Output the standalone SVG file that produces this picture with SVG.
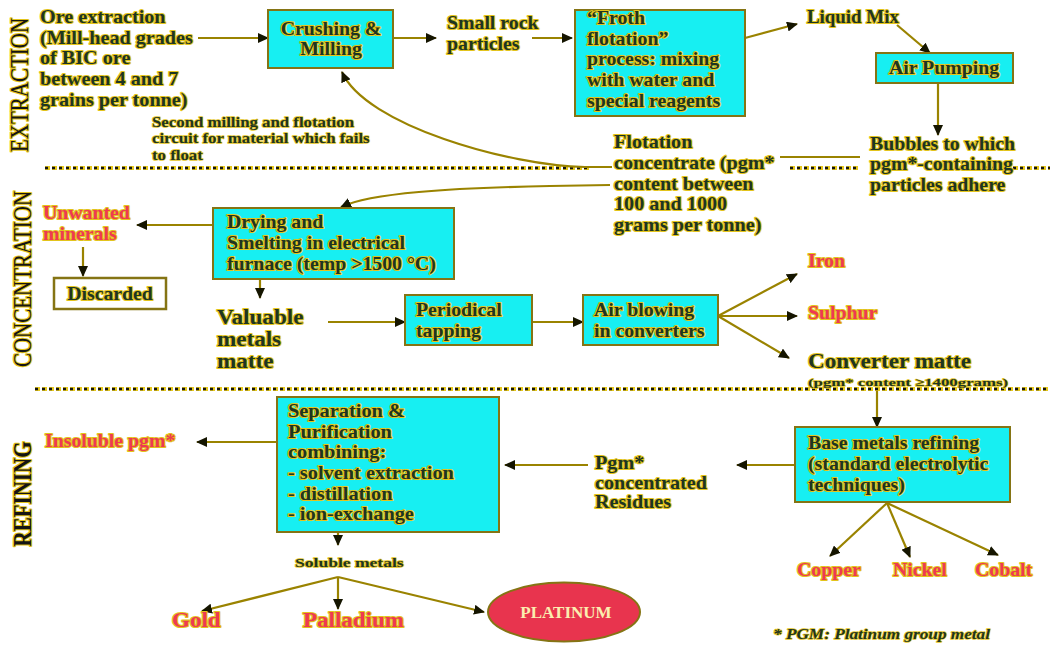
<svg xmlns="http://www.w3.org/2000/svg" width="1052" height="646" viewBox="0 0 1052 646">
<defs>
<style>
.t{font-family:"Liberation Serif","Times New Roman",serif;font-weight:bold;font-size:18px;fill:#1e3522;stroke:#e3c41c;stroke-width:2.2px;paint-order:stroke;stroke-linejoin:round}
.r{fill:#ee3a52}
.big{font-size:21px}
.sm{font-size:14px;stroke-width:1.5px}
.tiny{font-size:11px;stroke-width:1.3px}
.sol{font-size:13px;stroke-width:1.5px}
.gp{font-size:20px}
.fn{font-size:14px;font-style:italic;stroke-width:1.4px}
.sec{font-family:"Liberation Serif","Times New Roman",serif;font-size:25px;fill:#141414;stroke:#e3c41c;stroke-width:2.4px;paint-order:stroke;stroke-linejoin:round}
.box{fill:#17eff2;stroke:#857414;stroke-width:2}
.ln{fill:none;stroke:#9a8300;stroke-width:2.2}
.dy{fill:none;stroke:#e6c81c;stroke-width:4;stroke-dasharray:5 2}
.dk{fill:none;stroke:#141414;stroke-width:2.6;stroke-dasharray:3 4}
</style>
<marker id="ah" markerWidth="12" markerHeight="10" refX="10" refY="5" orient="auto" markerUnits="userSpaceOnUse">
<path d="M0,0 L11,5 L0,10 z" fill="#151500"/>
</marker>
</defs>
<rect width="1052" height="646" fill="#ffffff"/>

<g id="separators">
<path class="dy" d="M45 168 H590 M790 168 H858 M985 168 H1050 M35 389 H1048"/>
<path class="dk" d="M45 168 H590 M790 168 H858 M985 168 H1050 M35 389 H1048"/>
</g>

<g id="section-labels">
<text class="sec" text-anchor="middle" transform="translate(28 85) rotate(-90) scale(0.84 1)">EXTRACTION</text>
<text class="sec" text-anchor="middle" transform="translate(31 279) rotate(-90) scale(0.84 1)">CONCENTRATION</text>
<text class="sec" text-anchor="middle" style="font-weight:bold" transform="translate(31 494) rotate(-90) scale(0.84 1)">REFINING</text>
</g>

<g id="connectors">
<path class="ln" marker-end="url(#ah)" d="M198 38 H268"/>
<path class="ln" marker-end="url(#ah)" d="M393 38 H436"/>
<path class="ln" marker-end="url(#ah)" d="M532 38 H572"/>
<path class="ln" marker-end="url(#ah)" d="M745 38 L797 24"/>
<path class="ln" marker-end="url(#ah)" d="M897 25 L930 53"/>
<path class="ln" marker-end="url(#ah)" d="M938 83 V135"/>
<path class="ln" d="M780 157 H860"/>
<path class="ln" marker-end="url(#ah)" d="M612 167 L585 167 C510 166 365 125 342 72"/>
<path class="ln" marker-end="url(#ah)" d="M610 185 L550 186 C450 188 370 193 341 207"/>
<path class="ln" marker-end="url(#ah)" d="M213 225 H137"/>
<path class="ln" marker-end="url(#ah)" d="M83 247 V276"/>
<path class="ln" marker-end="url(#ah)" d="M260 270 V298"/>
<path class="ln" marker-end="url(#ah)" d="M328 322 H405"/>
<path class="ln" marker-end="url(#ah)" d="M532 322 H583"/>
<path class="ln" marker-end="url(#ah)" d="M718 316 L797 274"/>
<path class="ln" marker-end="url(#ah)" d="M718 316 H797"/>
<path class="ln" marker-end="url(#ah)" d="M718 316 L789 358"/>
<path class="ln" marker-end="url(#ah)" d="M877 391 V427"/>
<path class="ln" marker-end="url(#ah)" d="M795 465 H737"/>
<path class="ln" marker-end="url(#ah)" d="M588 465 H505"/>
<path class="ln" marker-end="url(#ah)" d="M277 442 H197"/>
<path class="ln" marker-end="url(#ah)" d="M887 503 L830 556"/>
<path class="ln" marker-end="url(#ah)" d="M887 503 L910 557"/>
<path class="ln" marker-end="url(#ah)" d="M887 503 L998 555"/>
<path class="ln" marker-end="url(#ah)" d="M338 518 V545"/>
<path class="ln" marker-end="url(#ah)" d="M338 577 L202 611"/>
<path class="ln" marker-end="url(#ah)" d="M338 577 V609"/>
<path class="ln" marker-end="url(#ah)" d="M338 577 L484 612"/>
</g>

<g id="ore-extraction">
<text class="t" transform="translate(40 23) scale(1.12 1)"><tspan x="0" y="0">Ore extraction</tspan><tspan x="0" y="20.7">(Mill-head grades</tspan><tspan x="0" y="41.4">of BIC ore</tspan><tspan x="0" y="62.1">between 4 and 7</tspan><tspan x="0" y="82.8">grains per tonne)</tspan></text>
</g>

<g id="crushing-milling">
<rect class="box" x="268" y="10" width="125" height="58"/>
<text class="t" text-anchor="middle" transform="translate(331 35) scale(1.1 1)"><tspan x="0" y="0">Crushing &amp;</tspan><tspan x="0" y="20.5">Milling</tspan></text>
</g>

<g id="small-rock-particles">
<text class="t" transform="translate(447 29) scale(1.1 1)"><tspan x="0" y="0">Small rock</tspan><tspan x="0" y="20.7">particles</tspan></text>
</g>

<g id="froth-flotation">
<rect class="box" x="575" y="10" width="170" height="106"/>
<text class="t" transform="translate(587 24) scale(1.1 1)"><tspan x="0" y="0">“Froth</tspan><tspan x="0" y="20.7">flotation”</tspan><tspan x="0" y="41.4">process: mixing</tspan><tspan x="0" y="62.1">with water and</tspan><tspan x="0" y="82.8">special reagents</tspan></text>
</g>

<g id="liquid-mix">
<text class="t" transform="translate(807 23) scale(1.05 1)">Liquid Mix</text>
</g>

<g id="air-pumping">
<rect class="box" x="876" y="53" width="137" height="30"/>
<text class="t" text-anchor="middle" transform="translate(944 74) scale(1.1 1)">Air Pumping</text>
</g>

<g id="bubbles">
<text class="t" transform="translate(870 150) scale(1.1 1)"><tspan x="0" y="0">Bubbles to which</tspan><tspan x="0" y="20.5">pgm*-containing</tspan><tspan x="0" y="41">particles adhere</tspan></text>
</g>

<g id="second-milling">
<text class="t sm" transform="translate(152 127) scale(1.2 1)"><tspan x="0" y="0">Second milling and flotation</tspan><tspan x="0" y="16.5">circuit for material which fails</tspan><tspan x="0" y="33">to float</tspan></text>
</g>

<g id="flotation-concentrate">
<text class="t" transform="translate(614 148) scale(1.12 1)"><tspan x="0" y="0">Flotation</tspan><tspan x="0" y="20.8">concentrate (pgm*</tspan><tspan x="0" y="41.6">content between</tspan><tspan x="0" y="62.4">100 and 1000</tspan><tspan x="0" y="83.2">grams per tonne)</tspan></text>
</g>

<g id="drying-smelting">
<rect class="box" x="213" y="208" width="241" height="71"/>
<text class="t" transform="translate(227 228) scale(1.1 1)"><tspan x="0" y="0">Drying and</tspan><tspan x="0" y="21">Smelting in electrical</tspan><tspan x="0" y="42">furnace (temp &gt;1500 °C)</tspan></text>
</g>

<g id="unwanted-minerals">
<text class="t r" transform="translate(43 219) scale(1.1 1)"><tspan x="0" y="0">Unwanted</tspan><tspan x="0" y="21">minerals</tspan></text>
</g>

<g id="discarded">
<rect x="54" y="278" width="112" height="31" fill="#ffffff" stroke="#857414" stroke-width="2.5"/>
<text class="t" text-anchor="middle" transform="translate(110 300) scale(1.1 1)">Discarded</text>
</g>

<g id="valuable-metals-matte">
<text class="t big" transform="translate(217 324) scale(1.1 1)"><tspan x="0" y="0">Valuable</tspan><tspan x="0" y="22">metals</tspan><tspan x="0" y="44">matte</tspan></text>
</g>

<g id="periodical-tapping">
<rect class="box" x="405" y="295" width="127" height="50"/>
<text class="t" transform="translate(416 316) scale(1.1 1)"><tspan x="0" y="0">Periodical</tspan><tspan x="0" y="21">tapping</tspan></text>
</g>

<g id="air-blowing">
<rect class="box" x="583" y="295" width="135" height="50"/>
<text class="t" transform="translate(594 316) scale(1.1 1)"><tspan x="0" y="0">Air blowing</tspan><tspan x="0" y="21">in converters</tspan></text>
</g>

<g id="iron">
<text class="t r" transform="translate(808 267) scale(1.1 1)">Iron</text>
</g>
<g id="sulphur">
<text class="t r" transform="translate(808 319) scale(1.1 1)">Sulphur</text>
</g>
<g id="converter-matte">
<text class="t big" transform="translate(808 368) scale(1.1 1)">Converter matte</text>
<text class="t tiny" x="808" y="386" textLength="200" lengthAdjust="spacingAndGlyphs">(pgm* content ≥1400grams)</text>
</g>

<g id="base-metals-refining">
<rect class="box" x="795" y="427" width="215" height="75"/>
<text class="t" transform="translate(808 449) scale(1.1 1)"><tspan x="0" y="0">Base metals refining</tspan><tspan x="0" y="21">(standard electrolytic</tspan><tspan x="0" y="42">techniques)</tspan></text>
</g>

<g id="pgm-residues">
<text class="t" transform="translate(595 469) scale(1.12 1)"><tspan x="0" y="0">Pgm*</tspan><tspan x="0" y="19.7">concentrated</tspan><tspan x="0" y="39.4">Residues</tspan></text>
</g>

<g id="separation-purification">
<rect class="box" x="277" y="397" width="222" height="135"/>
<text class="t" transform="translate(288 417) scale(1.13 1)"><tspan x="0" y="0">Separation &amp;</tspan><tspan x="0" y="20.7">Purification</tspan><tspan x="0" y="41.4">combining:</tspan><tspan x="0" y="62.1">- solvent extraction</tspan><tspan x="0" y="82.8">- distillation</tspan><tspan x="0" y="103.5">- ion-exchange</tspan></text>
</g>

<g id="insoluble-pgm">
<text class="t r" transform="translate(45 447) scale(1.1 1)">Insoluble pgm*</text>
</g>

<g id="soluble-metals">
<text class="t sol" transform="translate(295 567) scale(1.35 1)">Soluble metals</text>
</g>

<g id="gold">
<text class="t r gp" transform="translate(172 627) scale(1.15 1)">Gold</text>
</g>
<g id="palladium">
<text class="t r gp" transform="translate(303 627) scale(1.15 1)">Palladium</text>
</g>
<g id="platinum">
<ellipse cx="564" cy="612" rx="76" ry="29.5" fill="#e8344e" stroke="#857414" stroke-width="2"/>
<text x="566" y="618" text-anchor="middle" font-family="Liberation Serif, serif" font-weight="bold" font-size="17" fill="#fbeeb0">PLATINUM</text>
</g>

<g id="copper">
<text class="t r" transform="translate(797 576) scale(1.1 1)">Copper</text>
</g>
<g id="nickel">
<text class="t r" transform="translate(893 576) scale(1.1 1)">Nickel</text>
</g>
<g id="cobalt">
<text class="t r" transform="translate(975 576) scale(1.1 1)">Cobalt</text>
</g>

<g id="footnote">
<text class="t fn" x="773" y="639" textLength="217" lengthAdjust="spacingAndGlyphs">* PGM: Platinum group metal</text>
</g>
</svg>
